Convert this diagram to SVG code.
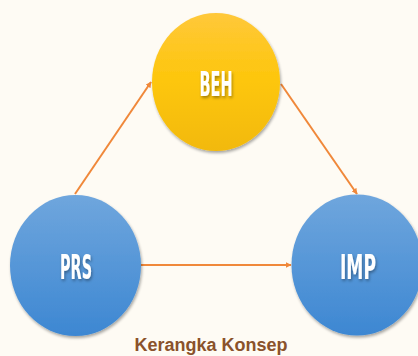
<svg xmlns="http://www.w3.org/2000/svg" width="418" height="356" viewBox="0 0 418 356">
<defs>
<linearGradient id="gy" x1="0" y1="0" x2="0" y2="1">
<stop offset="0" stop-color="#FFC83A"/>
<stop offset="0.5" stop-color="#FDC60A"/>
<stop offset="1" stop-color="#F2B90C"/>
</linearGradient>
<linearGradient id="gb" x1="0" y1="0" x2="0" y2="1">
<stop offset="0" stop-color="#6FA6DD"/>
<stop offset="1" stop-color="#3D87D2"/>
</linearGradient>
<filter id="sh" x="-20%" y="-20%" width="140%" height="140%">
<feGaussianBlur in="SourceAlpha" stdDeviation="1.5"/>
<feOffset dx="1" dy="2" result="b"/>
<feComponentTransfer><feFuncA type="linear" slope="0.35"/></feComponentTransfer>
<feMerge><feMergeNode/><feMergeNode in="SourceGraphic"/></feMerge>
</filter>
<marker id="ah" viewBox="0 0 10 10" refX="9" refY="5" markerWidth="6" markerHeight="6" orient="auto" markerUnits="userSpaceOnUse">
<path d="M0,0 L10,5 L0,10 z" fill="#F0883A"/>
</marker>
</defs>
<style>
.lbl{font-family:"Liberation Sans Narrow","DejaVu Sans Condensed","Liberation Sans",sans-serif;font-weight:bold;font-size:34px;fill:#ffffff;text-anchor:middle}
.edge{stroke:#F0883A;stroke-width:2;fill:none;marker-end:url(#ah)}
.cap{font-family:"Liberation Sans",Arial,sans-serif;font-weight:bold;font-size:18px;fill:#8A522B;text-anchor:middle}
</style>
<rect width="418" height="356" fill="#FEFBF4"/>
<g id="connectors">
<line class="edge" x1="75" y1="194" x2="151" y2="82"/>
<line class="edge" x1="281" y1="84" x2="357" y2="194"/>
<line class="edge" x1="141" y1="265" x2="291" y2="265"/>
</g>
<g id="BEH">
<ellipse cx="216" cy="82" rx="64" ry="69" fill="url(#gy)" filter="url(#sh)"/>
<text class="lbl" x="216" y="96" textLength="33" lengthAdjust="spacingAndGlyphs" filter="url(#sh)">BEH</text>
</g>
<g id="PRS">
<ellipse cx="75.5" cy="265.5" rx="65.5" ry="70.5" fill="url(#gb)" filter="url(#sh)"/>
<text class="lbl" x="76" y="279" textLength="32" lengthAdjust="spacingAndGlyphs" filter="url(#sh)">PRS</text>
</g>
<g id="IMP">
<ellipse cx="357" cy="265" rx="65.5" ry="70.5" fill="url(#gb)" filter="url(#sh)"/>
<text class="lbl" x="358" y="279" textLength="36" lengthAdjust="spacingAndGlyphs" filter="url(#sh)">IMP</text>
</g>
<text class="cap" x="211" y="351">Kerangka Konsep</text>
</svg>
